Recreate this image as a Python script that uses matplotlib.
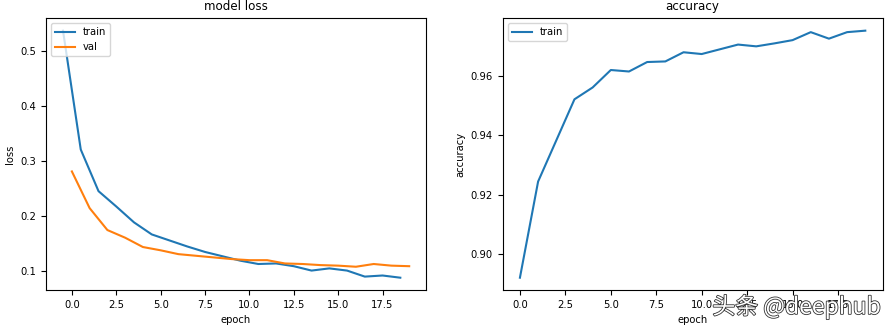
import numpy as np
import matplotlib
matplotlib.use("Agg")
import matplotlib.pyplot as plt
import matplotlib.patheffects as pe

# loss per epoch (train is plotted half an epoch earlier)
train_loss = [0.538, 0.321, 0.245, 0.217, 0.188, 0.166, 0.155, 0.144, 0.134, 0.126,
              0.118, 0.112, 0.113, 0.108, 0.100, 0.104, 0.100, 0.089, 0.091, 0.087]
val_loss = [0.281, 0.214, 0.174, 0.160, 0.143, 0.137, 0.130, 0.127, 0.124, 0.121,
            0.119, 0.119, 0.113, 0.112, 0.110, 0.109, 0.107, 0.112, 0.109, 0.108]
train_acc = [0.8919, 0.9244, 0.9383, 0.9522, 0.9562, 0.9621, 0.9616, 0.9648, 0.9650, 0.9681,
             0.9675, 0.9691, 0.9707, 0.9701, 0.9711, 0.9722, 0.9749, 0.9727, 0.9749, 0.9754]

epochs = np.arange(len(val_loss))

plt.rcParams['font.size'] = 7.2

fig = plt.figure(figsize=(8.96, 3.27), dpi=100)
ax1 = fig.add_axes([0.051, 0.113, 0.425, 0.831])
ax2 = fig.add_axes([0.561, 0.113, 0.424, 0.831])

ax1.plot(epochs - 0.5, train_loss, label="train")
ax1.plot(epochs, val_loss, label="val")
ax1.set_title("model loss", fontsize=8.6)
ax1.set_xlabel("epoch")
ax1.set_ylabel("loss")
ax1.legend(loc="upper left")

ax2.plot(epochs, train_acc, label="train")
ax2.set_title("accuracy", fontsize=8.6)
ax2.set_xlabel("epoch")
ax2.set_ylabel("accuracy")
ax2.set_yticks([0.90, 0.92, 0.94, 0.96])
ax2.legend(loc="upper left")

# watermark
fig.text(0.795, 0.04, "头条 @deephub", fontsize=16.5, color="white",
         family=["Noto Sans CJK SC", "DejaVu Sans"],
         path_effects=[pe.withStroke(linewidth=1.2, foreground="#333333")])

fig.savefig("out.png", dpi=100)
